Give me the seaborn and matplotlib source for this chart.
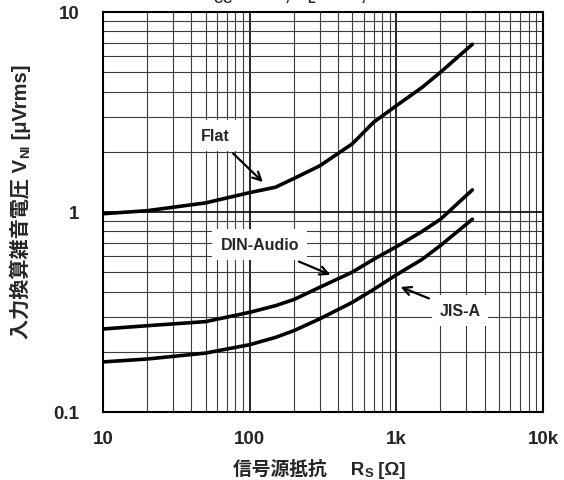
import numpy as np
import pandas as pd
import seaborn as sns
import matplotlib.pyplot as plt
from matplotlib.ticker import FixedLocator, FixedFormatter, LogLocator, NullFormatter

# source resistance [ohm]
rs = [10, 20, 50, 100, 150, 200, 300, 500, 700, 1000, 1500, 2000, 3300]
# input referred noise [uVrms]
flat = [0.98, 1.015, 1.11, 1.25, 1.33, 1.47, 1.70, 2.19, 2.81, 3.40, 4.2, 5.0, 6.9]
din_audio = [0.26, 0.27, 0.283, 0.315, 0.34, 0.365, 0.42, 0.50, 0.58, 0.67, 0.80, 0.92, 1.29]
jis_a = [0.178, 0.184, 0.197, 0.217, 0.236, 0.255, 0.292, 0.353, 0.41, 0.485, 0.58, 0.68, 0.92]

x_ticks = [10, 100, 1000, 10000]
x_tick_labels = ["10", "100", "1k", "10k"]
y_ticks = [0.1, 1, 10]
y_tick_labels = ["0.1", "1", "10"]

sns.set_style("white")
fam = ["Liberation Sans", "Noto Sans CJK JP", "DejaVu Sans"]
plt.rcParams["font.family"] = fam
plt.rcParams["font.weight"] = "bold"

data = pd.DataFrame({
    "Rs": rs * 3,
    "Vn": flat + din_audio + jis_a,
    "curve": ["Flat"] * len(rs) + ["DIN-Audio"] * len(rs) + ["JIS-A"] * len(rs),
})

fig = plt.figure(figsize=(5.64, 4.81), dpi=100)
ax = fig.add_axes([0.1826, 0.1414, 0.7802, 0.8316])

sns.lineplot(
    data=data, x="Rs", y="Vn", hue="curve",
    palette=["black", "black", "black"], linewidth=2.6,
    legend=False, ax=ax,
)

ax.set_xscale("log")
ax.set_yscale("log")
ax.set_xlim(10, 10000)
ax.set_ylim(0.1, 10)

ax.xaxis.set_major_locator(FixedLocator(x_ticks))
ax.xaxis.set_major_formatter(FixedFormatter(x_tick_labels))
ax.yaxis.set_major_locator(FixedLocator(y_ticks))
ax.yaxis.set_major_formatter(FixedFormatter(y_tick_labels))
ax.xaxis.set_minor_locator(LogLocator(base=10, subs=np.arange(2, 10)))
ax.yaxis.set_minor_locator(LogLocator(base=10, subs=np.arange(2, 10)))
ax.xaxis.set_minor_formatter(NullFormatter())
ax.yaxis.set_minor_formatter(NullFormatter())

ax.grid(True, which="major", color="black", linewidth=1.2)
ax.grid(True, which="minor", color="#3c3c3c", linewidth=0.8)
ax.set_axisbelow(True)
ax.tick_params(which="both", length=0, labelsize=13.5)
ax.tick_params(axis="x", pad=13)
ax.tick_params(axis="y", pad=17)
for s in ax.spines.values():
    s.set_color("black")
    s.set_linewidth(1.5)
ax.set_xlabel("")
ax.set_ylabel("")

# x axis label, built from pieces so the CJK font fallback works
xlab = dict(fontsize=13.5, fontweight="bold", family=fam)
ylab = dict(fontsize=14.5, fontweight="bold", family=fam)
sub = dict(fontsize=9.5, fontweight="bold", family=fam)
tx1 = fig.text(364 / 564, 1 - 479 / 481, "信号源抵抗\u3000 R", ha="right", va="bottom", **xlab)
tx2 = ax.annotate("S", xy=(1, 0), xycoords=tx1, xytext=(0.5, -1), textcoords="offset points",
                  ha="left", va="bottom", annotation_clip=False, **sub)
ax.annotate(" [Ω]", xy=(1, 0), xycoords=(tx2, tx1), xytext=(0, 0), textcoords="offset points",
            ha="left", va="bottom", annotation_clip=False, **xlab)

# y axis label
ty1 = fig.text(21 / 564, 1 - 339 / 481, "入力換算雑音電圧 V", rotation=90,
               ha="center", va="bottom", **ylab)
ty2 = ax.annotate("NI", xy=(1, 1), xycoords=ty1, xytext=(1, 0.5), textcoords="offset points",
                  rotation=90, ha="right", va="bottom", annotation_clip=False, **sub)
ax.annotate(" [μVrms]", xy=(1, 1), xycoords=(ty1, ty2), xytext=(0, 0), textcoords="offset points",
            rotation=90, ha="right", va="bottom", annotation_clip=False, **ylab)

box = dict(boxstyle="square,pad=0.5", fc="white", ec="none")
arrow = dict(arrowstyle="->", color="black", lw=1.6, mutation_scale=15)
ax.annotate("Flat", xy=(127, 1.38), xytext=(58, 2.40), ha="center", va="center",
            fontsize=11.5, fontweight="bold", bbox=box, arrowprops=arrow)
ax.annotate("DIN-Audio", xy=(370, 0.479), xytext=(117, 0.684), ha="center", va="center",
            fontsize=11.5, fontweight="bold", bbox=box, arrowprops=arrow)
ax.annotate("JIS-A", xy=(1025, 0.427), xytext=(2716, 0.32), ha="center", va="center",
            fontsize=11.5, fontweight="bold", bbox=box, arrowprops=arrow)

fig.text(0.571, 1 - 5 / 481, "V$_\\mathregular{CC}$=±15V, R$_\\mathregular{L}$=2kΩ, Ta=25°C",
         ha="center", va="bottom", fontsize=13, fontweight="bold")

fig.savefig("out.png", dpi=100)
